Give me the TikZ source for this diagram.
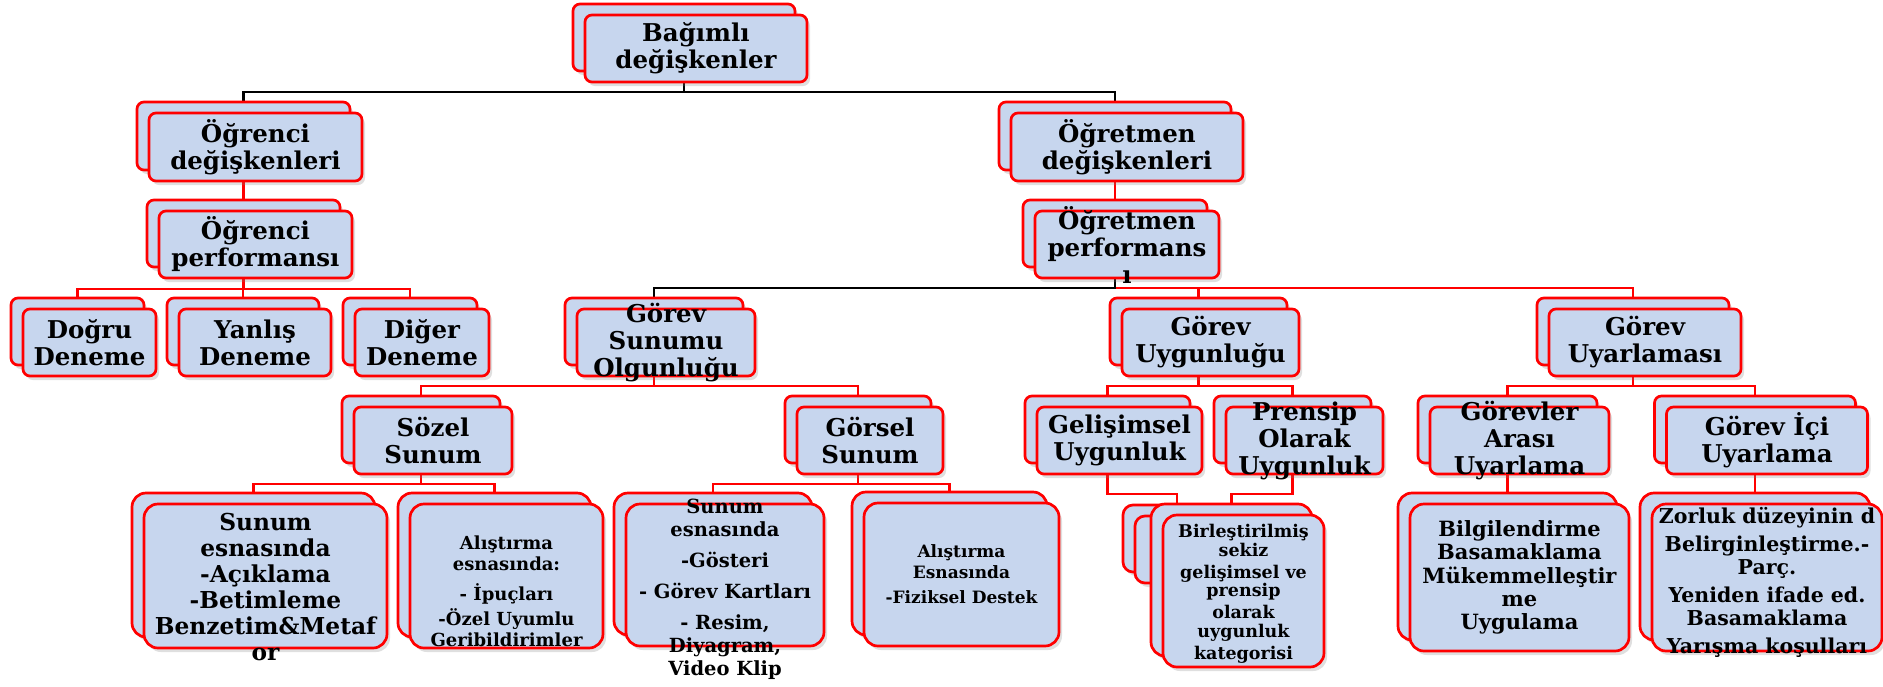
\documentclass[tikz,border=0pt]{standalone}
\usepackage{fontspec}
\setmainfont{DejaVu Serif}
\usetikzlibrary{shadows,backgrounds}
\definecolor{kutumavi}{RGB}{199,214,238}

\begin{document}
\begin{tikzpicture}[x=1pt,y=-1pt,
  kutu/.style={draw=red, line width=2.7pt, fill=kutumavi, rounded corners=7pt, inner sep=0pt,
    drop shadow={shadow xshift=3pt, shadow yshift=-4pt, opacity=0.25}},
  buyuk/.style={rounded corners=14pt},
  yazi/.style={align=center, inner sep=0pt, font=\fontsize{24.5}{27}\selectfont\bfseries},
  bag/.style={draw=red, line width=2.3pt},
  siyahbag/.style={draw=black, line width=2.3pt}]
\useasboundingbox (0,0) rectangle (1883,686);
\newcommand\yigin[8]{
\node[kutu, #6, minimum width=#4pt, minimum height=#5pt] (#1) at (#2,#3) {};
\node[kutu, #6, minimum width=#4pt, minimum height=#5pt] (#1on) at (#2+12,#3+11) {};
\node[yazi, #7] (#1yazi) at (#1on) {#8};
}
% ust seviyeler
\yigin{root}{684}{37.5}{222}{67}{}{}{Bağımlı\\değişkenler}
\yigin{od}{243.5}{136}{213}{68}{}{}{Öğrenci\\değişkenleri}
\yigin{td}{1115}{136}{232}{68}{}{}{Öğretmen\\değişkenleri}
\yigin{op}{243.5}{233.5}{193}{67}{}{}{Öğrenci\\performansı}
\yigin{tp}{1115}{233.5}{184}{67}{}{}{Öğretmen\\performans\\ı}
\yigin{dogru}{77.5}{331.5}{133}{67}{}{}{Doğru\\Deneme}
\yigin{yanlis}{243}{331.5}{152}{67}{}{}{Yanlış\\Deneme}
\yigin{diger}{410}{331.5}{134}{67}{}{}{Diğer\\Deneme}
\yigin{gso}{654}{331.5}{178}{67}{}{}{Görev\\Sunumu\\Olgunluğu}
\yigin{gu}{1198.5}{331.5}{177}{67}{}{}{Görev\\Uygunluğu}
\yigin{gua}{1633}{331.5}{192}{67}{}{}{Görev\\Uyarlaması}
\yigin{sozel}{421}{429.5}{158}{67}{}{}{Sözel\\Sunum}
\yigin{gorsel}{858}{429.5}{146}{67}{}{}{Görsel\\Sunum}
\yigin{gelisim}{1107.5}{429.5}{165}{67}{}{}{Gelişimsel\\Uygunluk}
\yigin{prensip}{1292.5}{429.5}{157}{67}{}{}{Prensip\\Olarak\\Uygunluk}
\yigin{arasi}{1507.5}{429.5}{179}{67}{}{}{Görevler\\Arası\\Uyarlama}
\yigin{ici}{1755}{429.5}{201}{67}{}{}{Görev İçi\\Uyarlama}
% alt kutular
\yigin{s1}{253.5}{565}{243}{144}{buyuk}{font=\fontsize{23.3}{26}\selectfont\bfseries, yshift=-11pt}{Sunum\\esnasında\\-Açıklama\\-Betimleme\\Benzetim\&Metaf\\or}
\yigin{s2}{494.5}{565}{193}{144}{buyuk}{font=\fontsize{18}{21}\selectfont\bfseries, yshift=-15pt}{Alıştırma\\esnasında:\\[9pt]- İpuçları\\[4pt]-Özel Uyumlu\\Geribildirimler}
\yigin{g1}{713}{564}{198}{142}{buyuk}{font=\fontsize{19.5}{23}\selectfont\bfseries, yshift=-14pt}{Sunum\\esnasında\\[8pt]-Gösteri\\[8pt]- Görev Kartları\\[8pt]- Resim,\\Diyagram,\\Video Klip}
\yigin{g2}{949.5}{563.5}{195}{143}{buyuk}{font=\fontsize{17}{21}\selectfont\bfseries}{Alıştırma\\Esnasında\\[4pt]-Fiziksel Destek}
\yigin{b0}{1177}{538.5}{108}{67}{rounded corners=10pt}{}{}
\yigin{b1}{1231.5}{580}{161}{152}{buyuk}{font=\fontsize{17.5}{18.5}\selectfont\bfseries, yshift=-3pt}{Birleştirilmiş\\sekiz\\[3.5pt]gelişimsel ve\\prensip\\[3.5pt]olarak\\uygunluk\\[3.5pt]kategorisi}
\yigin{a1}{1507.5}{566.5}{219}{147}{buyuk}{font=\fontsize{21}{23.3}\selectfont\bfseries}{Bilgilendirme\\Basamaklama\\Mükemmelleştir\\me\\Uygulama}
\yigin{i1}{1755}{566.5}{230}{147}{buyuk}{font=\fontsize{20.5}{23}\selectfont\bfseries, yshift=-5pt}{Zorluk düzeyinin d\\[5pt]Belirginleştirme.-\\Parç.\\[5pt]Yeniden ifade ed.\\Basamaklama\\[5pt]Yarışma koşulları}
% baglantilar
\coordinate (k1) at (0,92);
\coordinate (k2) at (0,289);
\coordinate (k3) at (0,288);
\coordinate (k4) at (0,386);
\coordinate (k5) at (0,484);
\coordinate (k6) at (0,494);
\begin{pgfonlayer}{background}
\draw[siyahbag] (root) -- (root |- k1) -| (od);
\draw[siyahbag] (root |- k1) -| (td);
\draw[bag] (od) -- (op);
\draw[bag] (td) -- (tp);
\draw[bag] (op) -- (op |- k2) -| (dogru);
\draw[bag] (op |- k2) -| (yanlis);
\draw[bag] (op |- k2) -| (diger);
\draw[bag] (tp |- k3) -| (gu);
\draw[bag] (tp |- k3) -| (gua);
\draw[siyahbag] (tp) -- (tp |- k3) -| (gso);
\draw[bag] (gso) -- (gso |- k4) -| (sozel);
\draw[bag] (gso |- k4) -| (gorsel);
\draw[bag] (gu) -- (gu |- k4) -| (gelisim);
\draw[bag] (gu |- k4) -| (prensip);
\draw[bag] (gua) -- (gua |- k4) -| (arasi);
\draw[bag] (gua |- k4) -| (ici);
\draw[bag] (sozel) -- (sozel |- k5) -| (s1);
\draw[bag] (sozel |- k5) -| (s2);
\draw[bag] (gorsel) -- (gorsel |- k5) -| (g1);
\draw[bag] (gorsel |- k5) -| (g2);
\draw[bag] (gelisim) -- (gelisim |- k6) -| (b0);
\draw[bag] (prensip) -- (prensip |- k6) -| (b1);
\draw[bag] (arasi) -- (a1);
\draw[bag] (ici) -- (i1);
\end{pgfonlayer}
\end{tikzpicture}
\end{document}
